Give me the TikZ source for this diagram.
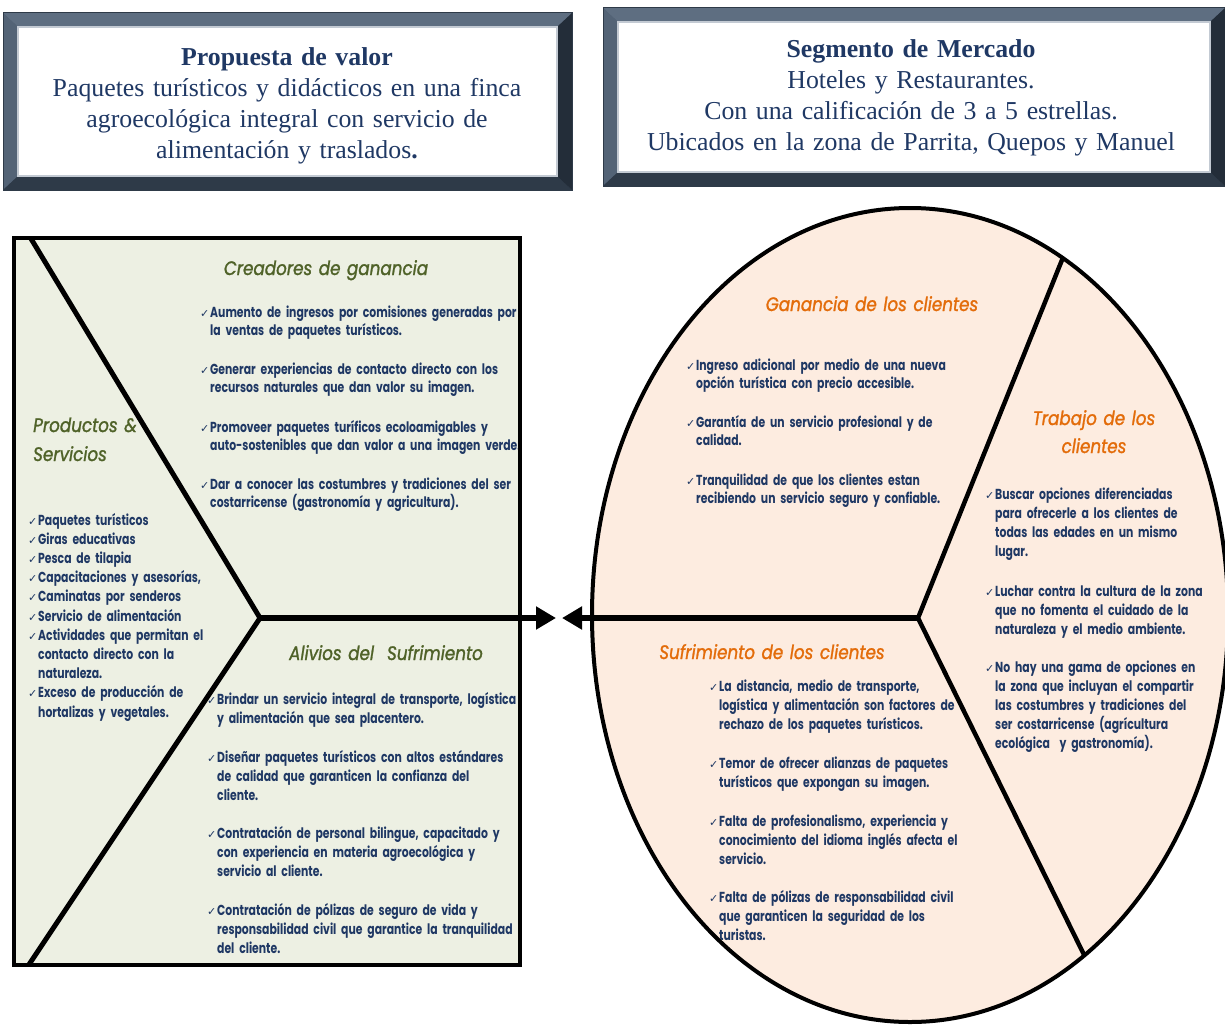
\documentclass[tikz,border=0pt]{standalone}
\usepackage{fontspec}
\setmainfont{Liberation Serif}
\newfontfamily\bodyf[FakeStretch=0.748]{Poppins}
\newfontfamily\headf[FakeStretch=0.86,FakeBold=1.3]{Poppins}
\newfontfamily\ckf{DejaVu Sans}
\usetikzlibrary{arrows.meta}
\definecolor{navy}{HTML}{1F3864}
\definecolor{olive}{HTML}{4F6228}
\definecolor{orng}{HTML}{E36C0A}
\definecolor{gfill}{HTML}{EDF0E3}
\definecolor{pfill}{HTML}{FDECE0}
\definecolor{frmid}{HTML}{46566A}
\definecolor{frtop}{HTML}{5E6E81}
\definecolor{frleft}{HTML}{536376}
\definecolor{frbot}{HTML}{2E3A48}
\definecolor{frright}{HTML}{232D39}
\definecolor{frin}{HTML}{C3CAD3}
\newcommand\chk{\makebox[10pt][l]{\ckf\fontsize{11}{11}\selectfont ✓}}
\newcommand\indt{\hspace*{10pt}}
\newcommand\bevelframe[4]{%
  \fill[frmid] (#1,#2) rectangle (#3,#4);
  \fill[frtop] (#1,#2) -- (#3,#2) -- (#3-15,#2+14) -- (#1+15,#2+14) -- cycle;
  \fill[frleft] (#1,#2) -- (#1+15,#2+14) -- (#1+15,#4-14) -- (#1,#4) -- cycle;
  \fill[frbot] (#1,#4) -- (#3,#4) -- (#3-15,#4-14) -- (#1+15,#4-14) -- cycle;
  \fill[frright] (#3,#2) -- (#3,#4) -- (#3-15,#4-14) -- (#3-15,#2+14) -- cycle;
  \draw[frbot, line width=1pt] (#1,#2) rectangle (#3,#4);
  \fill[white] (#1+15,#2+14) rectangle (#3-15,#4-14);
  \draw[frin, line width=1.5pt] (#1+15,#2+14) rectangle (#3-15,#4-14);
}
\tikzset{
  bodytxt/.style={anchor=base west, inner sep=0pt, text width=380pt, align=left,
    text=navy, font=\bodyf\bfseries\fontsize{14.5}{19.2}\selectfont},
  tightbody/.style={font=\bodyf\bfseries\fontsize{14.5}{18.2}\selectfont},
  ghead/.style={anchor=base, inner sep=0pt, text width=300pt, align=center,
    text=olive, font=\headf\itshape\fontsize{19.5}{29}\selectfont},
  ohead/.style={ghead, text=orng, font=\headf\itshape\fontsize{19.5}{28}\selectfont},
  boxtxt/.style={anchor=base, inner sep=0pt, text width=620pt, align=center,
    text=navy, font=\fontsize{25.8}{30.8}\selectfont},
  divline/.style={line width=5pt, line join=miter},
  bigarrow/.style={line width=6pt, -{Triangle[length=20pt,width=22pt]}}
}
\begin{document}
\begin{tikzpicture}[x=1pt,y=-1pt]
\useasboundingbox (0,0) rectangle (1225,1025);
\fill[white] (0,0) rectangle (1225,1025);

% ---- top boxes
\bevelframe{3}{13}{572}{190}
\node[boxtxt] (pv) at (287,66) {\textbf{Propuesta de valor}\\Paquetes turísticos y didácticos en una finca\\agroecológica integral con servicio de\\alimentación y traslados\textbf{.}};
\bevelframe{603}{8}{1225}{186}
\node[boxtxt] (sm) at (911,58) {\textbf{Segmento de Mercado}\\Hoteles y Restaurantes.\\Con una calificación de 3 a 5 estrellas.\\Ubicados en la zona de Parrita, Quepos y Manuel};

% ---- shapes
\coordinate (rtl) at (14,238);
\coordinate (rbr) at (520,965);
\fill[gfill] (rtl) rectangle (rbr);
\fill[pfill] (910,615) ellipse [x radius=318pt, y radius=407pt];

% ---- left texts
\begin{scope}
\clip (rtl) rectangle (rbr);
\node[ghead] (cgh) at (326,275) {Creadores de ganancia};
\node[bodytxt, tightbody] (cg1) at (200,317) {\chk Aumento de ingresos por comisiones generadas por\\\indt la ventas de paquetes turísticos.};
\node[bodytxt, tightbody] (cg2) at (200,374) {\chk Generar experiencias de contacto directo con los\\\indt recursos naturales que dan valor su imagen.};
\node[bodytxt, tightbody] (cg3) at (200,432) {\chk Promoveer paquetes turíficos ecoloamigables y\\\indt auto-sostenibles que dan valor a una imagen verde.};
\node[bodytxt, tightbody] (cg4) at (200,489) {\chk Dar a conocer las costumbres y tradiciones del ser\\\indt costarricense (gastronomía y agricultura).};

\node[ghead, anchor=base west, text width=200pt, align=left] (psh) at (33,432) {Productos \&\\Servicios};
\node[bodytxt] (ps) at (28,525) {\chk Paquetes turísticos\\\chk Giras educativas\\\chk Pesca de tilapia\\\chk Capacitaciones y asesorías,\\\chk Caminatas por senderos\\\chk Servicio de alimentación\\\chk Actividades que permitan el\\\indt contacto directo con la\\\indt naturaleza.\\\chk Exceso de producción de\\\indt hortalizas y vegetales.};

\node[ghead] (avh) at (386,660) {Alivios del\ \ Sufrimiento};
\node[bodytxt] (av1) at (207,704) {\chk Brindar un servicio integral de transporte, logística\\\indt y alimentación que sea placentero.};
\node[bodytxt] (av2) at (207,762) {\chk Diseñar paquetes turísticos con altos estándares\\\indt de calidad que garanticen la confianza del\\\indt cliente.};
\node[bodytxt] (av3) at (207,838) {\chk Contratación de personal bilingue, capacitado y\\\indt con experiencia en materia agroecológica y\\\indt servicio al cliente.};
\node[bodytxt] (av4) at (207,915) {\chk Contratación de pólizas de seguro de vida y\\\indt responsabilidad civil que garantice la tranquilidad\\\indt del cliente.};
\end{scope}

% ---- right texts
\node[ohead] (gch) at (872,311) {Ganancia de los clientes};
\node[bodytxt, tightbody] (gc1) at (686,370) {\chk Ingreso adicional por medio de una nueva\\\indt opción turística con precio accesible.};
\node[bodytxt, tightbody] (gc2) at (686,427) {\chk Garantía de un servicio profesional y de\\\indt calidad.};
\node[bodytxt, tightbody] (gc3) at (686,485) {\chk Tranquilidad de que los clientes estan\\\indt recibiendo un servicio seguro y confiable.};

\node[ohead] (tch) at (1094,425) {Trabajo de los\\clientes};
\node[bodytxt] (tc1) at (985,499) {\chk Buscar opciones diferenciadas\\\indt para ofrecerle a los clientes de\\\indt todas las edades en un mismo\\\indt lugar.};
\node[bodytxt] (tc2) at (985,596) {\chk Luchar contra la cultura de la zona\\\indt que no fomenta el cuidado de la\\\indt naturaleza y el medio ambiente.};
\node[bodytxt] (tc3) at (985,672) {\chk No hay una gama de opciones en\\\indt la zona que incluyan el compartir\\\indt las costumbres y tradiciones del\\\indt ser costarricense (agrícultura\\\indt ecológica\ \ y gastronomía).};

\node[ohead] (sch) at (772,659) {Sufrimiento de los clientes};
\node[bodytxt] (sc1) at (709,691) {\chk La distancia, medio de transporte,\\\indt logística y alimentación son factores de\\\indt rechazo de los paquetes turísticos.};
\node[bodytxt] (sc2) at (709,768) {\chk Temor de ofrecer alianzas de paquetes\\\indt turísticos que expongan su imagen.};
\node[bodytxt] (sc3) at (709,826) {\chk Falta de profesionalismo, experiencia y\\\indt conocimiento del idioma inglés afecta el\\\indt servicio.};
\node[bodytxt] (sc4) at (709,902) {\chk Falta de pólizas de responsabilidad civil\\\indt que garanticen la seguridad de los\\\indt turistas.};

% ---- dividing lines
\coordinate (lv) at (260,618);
\coordinate (ltop) at (30,237);
\coordinate (lbot) at (28,966);
\begin{scope}
\clip (rtl) rectangle (rbr);
\draw[divline] (ltop) -- (lv) -- (lbot);
\end{scope}
\coordinate (rv) at (918,618);
\coordinate (rtop) at (1068,245);
\coordinate (rbot) at (1094,975);
\begin{scope}
\clip (910,615) ellipse [x radius=318pt, y radius=407pt];
\draw[line width=4.5pt, line join=miter] (rtop) -- (rv) -- (rbot);
\end{scope}

% ---- borders
\draw[line width=4pt] (rtl) rectangle (rbr);
\draw[line width=4pt] (910,615) ellipse [x radius=318pt, y radius=407pt];

% ---- arrows
\coordinate (ltip) at (556,618);
\coordinate (rtip) at (562,618);
\draw[bigarrow] (lv) -- (ltip);
\draw[bigarrow] (rv) -- (rtip);
\end{tikzpicture}
\end{document}
